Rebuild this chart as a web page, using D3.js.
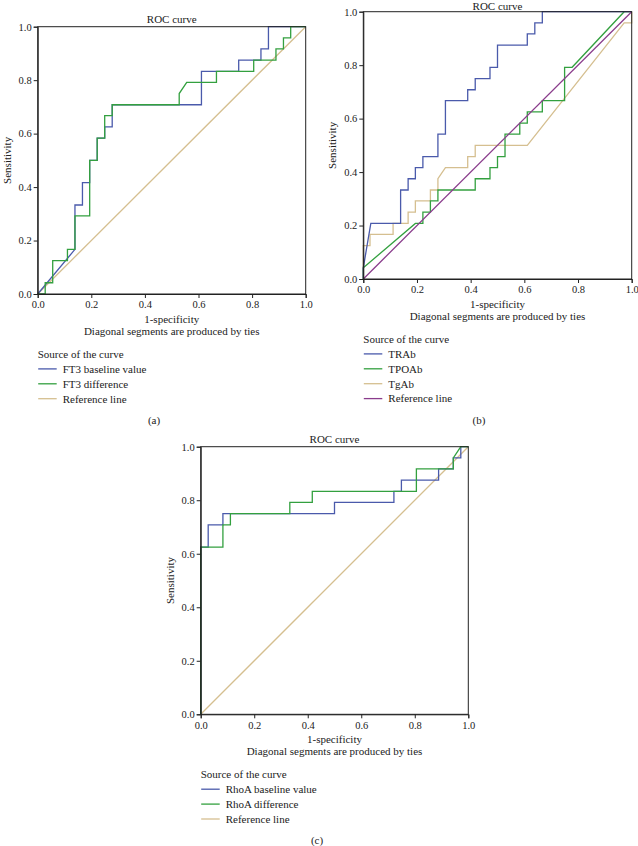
<!DOCTYPE html>
<html>
<head>
<meta charset="utf-8">
<script src="https://cdn.jsdelivr.net/npm/d3@7"></script>
<style>
  html, body { margin: 0; padding: 0; background: #fff; }
  svg { display: block; }
  text { font-family: "Liberation Serif", "Times New Roman", serif; fill: #222; }
</style>
</head>
<body>
<svg id="chart" width="638" height="846"></svg>
<script>
// ---- data: [1 - specificity, sensitivity] ----
const tickValues = [0, 0.2, 0.4, 0.6, 0.8, 1.0]
const referenceLine = [[0, 0], [1, 1]]

// (a)
const ft3Baseline = [[0, 0], [0.139, 0.167], [0.139, 0.333], [0.167, 0.333], [0.167, 0.417], [0.194, 0.417],
  [0.194, 0.5], [0.222, 0.5], [0.222, 0.583], [0.25, 0.583], [0.25, 0.625], [0.278, 0.625], [0.278, 0.708],
  [0.611, 0.708], [0.611, 0.833], [0.75, 0.833], [0.75, 0.875], [0.833, 0.875], [0.833, 0.917],
  [0.861, 0.917], [0.861, 1], [1, 1]]
const ft3Difference = [[0, 0], [0.028, 0], [0.028, 0.042], [0.056, 0.042], [0.056, 0.125], [0.111, 0.125],
  [0.111, 0.167], [0.139, 0.167], [0.139, 0.292], [0.194, 0.292], [0.194, 0.5], [0.222, 0.5], [0.222, 0.583],
  [0.25, 0.583], [0.25, 0.667], [0.278, 0.667], [0.278, 0.708], [0.528, 0.708], [0.528, 0.75], [0.556, 0.792],
  [0.667, 0.792], [0.667, 0.833], [0.806, 0.833], [0.806, 0.875], [0.889, 0.875], [0.889, 0.917],
  [0.917, 0.917], [0.917, 0.958], [0.944, 0.958], [0.944, 1], [1, 1]]

// (b)
const trab = [[0, 0], [0, 0.042], [0.028, 0.208], [0.139, 0.208], [0.139, 0.333], [0.167, 0.333], [0.167, 0.375],
  [0.194, 0.375], [0.194, 0.417], [0.222, 0.417], [0.222, 0.458], [0.278, 0.458], [0.278, 0.542], [0.306, 0.542],
  [0.306, 0.667], [0.389, 0.667], [0.389, 0.708], [0.417, 0.708], [0.417, 0.75], [0.472, 0.75], [0.472, 0.792],
  [0.5, 0.792], [0.5, 0.875], [0.611, 0.875], [0.611, 0.917], [0.639, 0.917], [0.639, 0.958], [0.667, 0.958],
  [0.667, 1], [1, 1]]
const tpoab = [[0, 0], [0, 0.042], [0.194, 0.208], [0.222, 0.208], [0.222, 0.25], [0.25, 0.25], [0.25, 0.292],
  [0.278, 0.292], [0.278, 0.333], [0.417, 0.333], [0.417, 0.375], [0.472, 0.375], [0.472, 0.417], [0.5, 0.417],
  [0.5, 0.458], [0.528, 0.458], [0.528, 0.542], [0.583, 0.542], [0.583, 0.583], [0.611, 0.583], [0.611, 0.625],
  [0.667, 0.625], [0.667, 0.667], [0.75, 0.667], [0.75, 0.792], [0.778, 0.792], [0.972, 1], [1, 1]]
const tgab = [[0, 0], [0, 0.125], [0.025, 0.125], [0.025, 0.167], [0.111, 0.167], [0.111, 0.208], [0.167, 0.208],
  [0.167, 0.25], [0.194, 0.25], [0.194, 0.292], [0.25, 0.292], [0.25, 0.333], [0.278, 0.333], [0.278, 0.375],
  [0.306, 0.417], [0.389, 0.417], [0.389, 0.458], [0.417, 0.458], [0.417, 0.5], [0.611, 0.5], [0.972, 0.958],
  [1, 0.958], [1, 1]]

// (c)
const rhoaBaseline = [[0, 0], [0, 0.625], [0.028, 0.625], [0.028, 0.708], [0.083, 0.708], [0.083, 0.75],
  [0.5, 0.75], [0.5, 0.792], [0.722, 0.792], [0.722, 0.833], [0.75, 0.833], [0.75, 0.875], [0.889, 0.875],
  [0.889, 0.917], [0.944, 0.917], [0.944, 0.958], [0.972, 0.958], [0.972, 1], [1, 1]]
const rhoaDifference = [[0, 0], [0, 0.625], [0.083, 0.625], [0.083, 0.708], [0.111, 0.708], [0.111, 0.75],
  [0.333, 0.75], [0.333, 0.792], [0.417, 0.792], [0.417, 0.833], [0.806, 0.833], [0.806, 0.917],
  [0.944, 0.917], [0.944, 0.958], [0.972, 1], [1, 1]]

const seriesA = ['FT3 baseline value', 'FT3 difference', 'Reference line']
const seriesB = ['TRAb', 'TPOAb', 'TgAb', 'Reference line']
const seriesC = ['RhoA baseline value', 'RhoA difference', 'Reference line']

// ---- colours ----
const BLUE = '#4a5aab'
const GREEN = '#33a03f'
const TAN = '#d5bf90'
const PURPLE = '#8a3c8c'

const panels = [
  {
    box: { x: 37.7, y: 26.7, w: 268, h: 267.3 }, label: '(a)', labelX: 154, labelY: 420,
    names: seriesA, colors: [BLUE, GREEN, TAN],
    draw: [[referenceLine, TAN], [ft3Baseline, BLUE], [ft3Difference, GREEN]]
  },
  {
    box: { x: 363.3, y: 11.7, w: 268.4, h: 267.3 }, label: '(b)', labelX: 479, labelY: 420,
    names: seriesB, colors: [BLUE, GREEN, TAN, PURPLE],
    draw: [[tgab, TAN], [tpoab, GREEN], [trab, BLUE], [referenceLine, PURPLE]]
  },
  {
    box: { x: 200.7, y: 446.7, w: 267.6, h: 267.6 }, label: '(c)', labelX: 317, labelY: 840,
    names: seriesC, colors: [BLUE, GREEN, TAN],
    draw: [[referenceLine, TAN], [rhoaBaseline, BLUE], [rhoaDifference, GREEN]]
  }
]

const FS = 11

const svg = d3.select('#chart')
svg.append('rect').attr('width', 638).attr('height', 846).attr('fill', '#fff')

panels.forEach(function (p) {
  const b = p.box
  const x = d3.scaleLinear().domain([0, 1]).range([b.x, b.x + b.w])
  const y = d3.scaleLinear().domain([0, 1]).range([b.y + b.h, b.y])
  const g = svg.append('g')

  // curves
  const line = d3.line().x((d) => x(d[0])).y((d) => y(d[1]))
  p.draw.forEach(function (s) {
    g.append('path')
      .attr('d', line(s[0]))
      .attr('fill', 'none')
      .attr('stroke', s[1])
      .attr('stroke-width', 1.3)
  })

  // frame
  g.append('rect')
    .attr('x', b.x).attr('y', b.y)
    .attr('width', b.w).attr('height', b.h)
    .attr('fill', 'none')
    .attr('stroke', '#222')
    .attr('stroke-width', 1)

  // axes
  const xAxis = g.append('g')
    .attr('transform', 'translate(0,' + (b.y + b.h) + ')')
    .call(d3.axisBottom(x).tickValues(tickValues).tickFormat(d3.format('.1f')).tickSize(4).tickPadding(3))
  const yAxis = g.append('g')
    .attr('transform', 'translate(' + b.x + ',0)')
    .call(d3.axisLeft(y).tickValues(tickValues).tickFormat(d3.format('.1f')).tickSize(4).tickPadding(2))
  ;[xAxis, yAxis].forEach(function (a) {
    a.select('.domain').attr('stroke', '#222')
    a.selectAll('.tick line').attr('stroke', '#222')
    a.selectAll('.tick text')
      .attr('font-family', '"Liberation Serif", "Times New Roman", serif')
      .attr('font-size', 10.5)
      .attr('fill', '#222')
  })

  const cx = b.x + b.w / 2
  const bottom = b.y + b.h

  // title (kept inside the page when the plot sits at the top edge)
  g.append('text')
    .attr('x', cx).attr('y', Math.max(b.y - 4, 9.5))
    .attr('text-anchor', 'middle')
    .attr('font-size', FS)
    .text('ROC curve')

  // y label
  g.append('text')
    .attr('transform', 'translate(' + (b.x - 27) + ',' + (b.y + b.h / 2) + ') rotate(-90)')
    .attr('text-anchor', 'middle')
    .attr('font-size', FS)
    .text('Sensitivity')

  // x labels
  g.append('text')
    .attr('x', cx).attr('y', bottom + 29)
    .attr('text-anchor', 'middle')
    .attr('font-size', FS)
    .text('1-specificity')
  g.append('text')
    .attr('x', cx).attr('y', bottom + 41)
    .attr('text-anchor', 'middle')
    .attr('font-size', FS)
    .text('Diagonal segments are produced by ties')

  // legend
  const lg = g.append('g').attr('transform', 'translate(' + b.x + ',' + (bottom + 60) + ')')
  lg.append('text')
    .attr('x', 0).attr('y', 3.8)
    .attr('font-size', FS)
    .text('Source of the curve')
  p.names.forEach(function (name, i) {
    const ry = 14.9 * (i + 1)
    lg.append('line')
      .attr('x1', 0.5).attr('x2', 19)
      .attr('y1', ry).attr('y2', ry)
      .attr('stroke', p.colors[i])
      .attr('stroke-width', 1.3)
    lg.append('text')
      .attr('x', 25).attr('y', ry + 3.8)
      .attr('font-size', FS)
      .text(name)
  })

  // panel letter
  g.append('text')
    .attr('x', p.labelX).attr('y', p.labelY + 3.8)
    .attr('text-anchor', 'middle')
    .attr('font-size', FS)
    .text(p.label)
})
</script>
</body>
</html>
